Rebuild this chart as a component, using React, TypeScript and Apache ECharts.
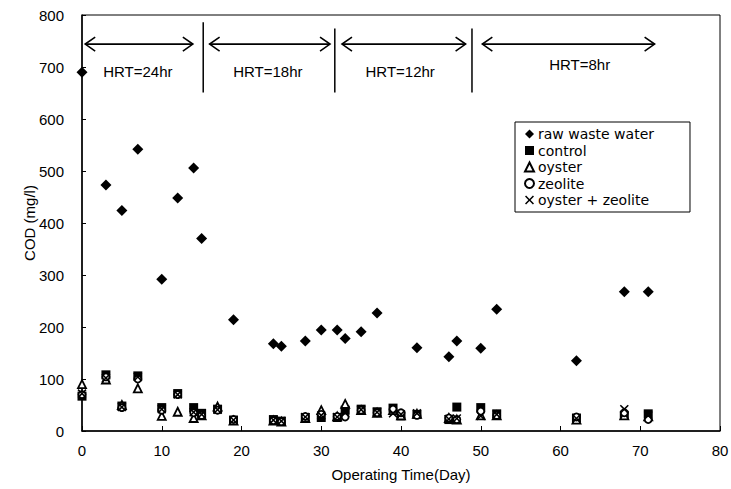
import React, { useEffect, useRef } from "react";
import * as echarts from "echarts";

// ---- data ----
const rawDays = [0, 3, 5, 7, 10, 12, 14, 15, 19, 24, 25, 28, 30, 32, 33, 35, 37, 42, 46, 47, 50, 52, 62, 68, 71];
const rawCOD = [690, 473, 424, 542, 292, 448, 506, 370, 214, 168, 163, 173, 194, 194, 178, 191, 227, 160, 143, 173, 159, 234, 135, 268, 268];

const days = [0, 3, 5, 7, 10, 12, 14, 15, 17, 19, 24, 25, 28, 30, 32, 33, 35, 37, 39, 40, 42, 46, 47, 50, 52, 62, 68, 71];
const controlCOD = [67, 108, 48, 106, 45, 72, 45, 34, 42, 21, 22, 19, 26, 26, 26, 40, 42, 37, 44, 29, 32, 22, 46, 45, 33, 25, 30, 33];
const oysterCOD = [90, 99, 50, 82, 29, 37, 25, 30, 47, 20, 20, 18, 25, 40, 28, 52, 40, 35, 40, 30, 33, 25, 22, 30, 30, 22, 30, 28];
const zeoliteCOD = [70, 104, 45, 100, 40, 70, 35, 30, 40, 22, 20, 18, 28, 32, 28, 27, 40, 35, 42, 35, 30, 25, 22, 38, 30, 27, 35, 22];
const oysterZeoliteCOD = [72, 102, 46, 104, 42, 70, 36, 32, 41, 21, 21, 19, 27, 30, 27, 35, 41, 36, 34, 32, 34, 23, 24, 29, 32, 24, 42, 30];

const seriesNames = ["raw waste water", "control", "oyster", "zeolite", "oyster + zeolite"];

// HRT annotation
const hrtLabels = ["HRT=24hr", "HRT=18hr", "HRT=12hr", "HRT=8hr"];
const arrowStart = [0.4, 16.0, 32.6, 50.2];
const arrowEnd = [13.9, 31.1, 48.1, 71.8];
const labelDay = [7.0, 23.3, 39.9, 62.4];
const labelCOD = [692, 692, 692, 705];
const arrowCOD = 744;
const separatorDays = [15.2, 31.7, 48.9];
const separatorTop = [786, 774, 774];
const separatorBottom = 651;

const FONT = "Liberation Sans";
const X_PATH =
  "path://M0,1.2 L1.2,0 L5,3.8 L8.8,0 L10,1.2 L6.2,5 L10,8.8 L8.8,10 L5,6.2 L1.2,10 L0,8.8 L3.8,5 Z";

export default function App() {
  const ref = useRef<HTMLDivElement>(null);
  useEffect(() => {
    if (!ref.current) return;
    const chart = echarts.init(ref.current, null, { renderer: "svg" });
    const pair = (xs: number[], ys: number[]) => xs.map((x, i) => [x, ys[i]]);

    const option = {
      animation: false,
      backgroundColor: "#fff",
      grid: {
        left: 82,
        right: 11,
        top: 15,
        bottom: 58,
        show: true,
        borderColor: "#000",
        borderWidth: 1,
        containLabel: false,
        outerBoundsMode: "none",
      },
      legend: {
        data: seriesNames,
        orient: "vertical",
        left: 515,
        top: 122,
        padding: [5, 36, 5, 9],
        itemGap: 2.5,
        itemWidth: 9,
        itemHeight: 9,
        borderColor: "#000",
        borderWidth: 1,
        textStyle: { fontFamily: "DejaVu Sans", fontSize: 14, lineHeight: 14, color: "#000", padding: [0, 0, 0, -1] },
      },
      xAxis: {
        type: "value",
        min: 0,
        max: 80,
        interval: 10,
        name: "Operating Time(Day)",
        nameLocation: "middle",
        nameGap: 36,
        nameMoveOverlap: false,
        nameTextStyle: { fontFamily: FONT, fontSize: 15, color: "#000" },
        axisLine: { lineStyle: { color: "#000", width: 1.5 } },
        axisTick: { inside: true, length: 5, lineStyle: { color: "#000" } },
        axisLabel: { fontFamily: FONT, fontSize: 15, color: "#000", margin: 12 },
        splitLine: { show: false },
      },
      yAxis: {
        type: "value",
        min: 0,
        max: 800,
        interval: 100,
        name: "COD (mg/l)",
        nameLocation: "middle",
        nameGap: 45,
        nameMoveOverlap: false,
        nameTextStyle: { fontFamily: FONT, fontSize: 15, color: "#000" },
        axisLine: { lineStyle: { color: "#000", width: 1.5 } },
        axisTick: { inside: true, length: 4, lineStyle: { color: "#000" } },
        axisLabel: { fontFamily: FONT, fontSize: 15, color: "#000", margin: 18 },
        splitLine: { show: false },
      },
      series: [
        {
          name: seriesNames[0],
          type: "scatter",
          symbol: "diamond",
          symbolSize: 11,
          itemStyle: { color: "#000", opacity: 1 },
          data: pair(rawDays, rawCOD),
          z: 5,
        },
        {
          name: seriesNames[1],
          type: "scatter",
          symbol: "rect",
          symbolSize: 9,
          itemStyle: { color: "#000", opacity: 1 },
          data: pair(days, controlCOD),
          z: 4,
        },
        {
          name: seriesNames[2],
          type: "scatter",
          symbol: "triangle",
          symbolSize: 8,
          itemStyle: { color: "#fff", borderColor: "#000", borderWidth: 1.8, opacity: 1 },
          data: pair(days, oysterCOD),
          z: 6,
        },
        {
          name: seriesNames[3],
          type: "scatter",
          symbol: "circle",
          symbolSize: 7,
          itemStyle: { color: "#fff", borderColor: "#000", borderWidth: 1.8, opacity: 1 },
          data: pair(days, zeoliteCOD),
          z: 6,
        },
        {
          name: seriesNames[4],
          type: "scatter",
          symbol: X_PATH,
          symbolSize: 9,
          itemStyle: { color: "#000", opacity: 1 },
          data: pair(days, oysterZeoliteCOD),
          z: 6,
        },
        {
          type: "custom",
          name: "hrt",
          silent: true,
          data: hrtLabels.map((l, i) => [arrowStart[i], arrowEnd[i], labelDay[i], labelCOD[i], i]),
          encode: { x: [0, 1], y: 3 },
          renderItem: (params: any, api: any) => {
            const i = api.value(4);
            const p1 = api.coord([api.value(0), arrowCOD]);
            const p2 = api.coord([api.value(1), arrowCOD]);
            const pt = api.coord([api.value(2), api.value(3)]);
            const s = { stroke: "#000", lineWidth: 1.6, fill: "none" };
            return {
              type: "group",
              children: [
                { type: "line", shape: { x1: p1[0], y1: p1[1], x2: p2[0], y2: p2[1] }, style: s },
                {
                  type: "polyline",
                  shape: { points: [[p1[0] + 10, p1[1] - 7], [p1[0], p1[1]], [p1[0] + 10, p1[1] + 7]] },
                  style: s,
                },
                {
                  type: "polyline",
                  shape: { points: [[p2[0] - 10, p2[1] - 7], [p2[0], p2[1]], [p2[0] - 10, p2[1] + 7]] },
                  style: s,
                },
                {
                  type: "text",
                  x: pt[0],
                  y: pt[1],
                  style: {
                    text: hrtLabels[i],
                    fontFamily: FONT,
                    fontSize: 15,
                    fill: "#000",
                    align: "center",
                    verticalAlign: "middle",
                  },
                },
              ],
            };
          },
        },
        {
          type: "custom",
          name: "sep",
          silent: true,
          data: separatorDays.map((d, i) => [d, separatorTop[i], separatorBottom]),
          encode: { x: 0, y: [1, 2] },
          renderItem: (params: any, api: any) => {
            const a = api.coord([api.value(0), api.value(1)]);
            const b = api.coord([api.value(0), api.value(2)]);
            return {
              type: "line",
              shape: { x1: a[0], y1: a[1], x2: b[0], y2: b[1] },
              style: { stroke: "#000", lineWidth: 1.5 },
            };
          },
        },
      ],
    };
    chart.setOption(option as any);
    return () => chart.dispose();
  }, []);
  return (
    <div
      ref={ref}
      style={{ position: "absolute", left: 0, top: 0, width: 731, height: 489 }}
    />
  );
}
